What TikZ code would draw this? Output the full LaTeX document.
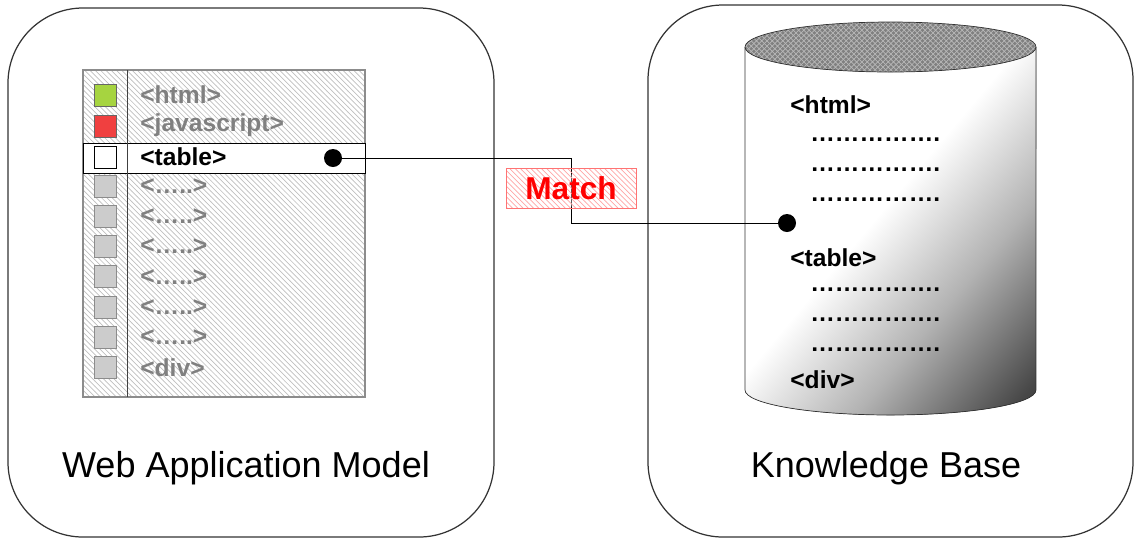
\documentclass[tikz,border=0pt]{standalone}
\usepackage{fontspec}
\setmainfont{Liberation Sans}
\usetikzlibrary{patterns}

\pgfdeclarehorizontalshading{kbshade}{100bp}{color(0bp)=(white); color(47bp)=(white); color(64bp)=(black!30); color(82bp)=(black!72); color(100bp)=(black!95)}

\begin{document}
\begin{tikzpicture}[x=0.02cm, y=-0.02cm,
    frame/.style={draw=black!80, line width=0.7pt, rounded corners=1.5cm},
    row/.style={anchor=west, inner sep=0pt, font=\bfseries\fontsize{14}{16}\selectfont, text=black!50},
    kbrow/.style={anchor=west, inner sep=0pt, font=\bfseries\fontsize{14}{16}\selectfont},
    sq/.style={draw=black!45, fill=black!20, minimum size=0.44cm, inner sep=0pt},
    dot/.style={circle, fill=black, inner sep=0pt, minimum size=0.36cm},
    title/.style={font=\fontsize{20.5}{24}\selectfont}]
        \useasboundingbox (0,0) rectangle (1135,539);

        % Рамки
        \draw[frame] (8,8) rectangle (494,537);
        \draw[frame] (648,5) rectangle (1133,537);

        % Список тегов
        \draw[black!45, line width=0.8pt, pattern=north west lines, pattern color=black!25] (83,70) rectangle (365,397);
        \draw[fill=white] (83,143) rectangle (365,173);
        \draw[black!75] (127,70) -- (127,397);
        \foreach \i/\t in {0/{<html>}, 1/{<javascript>}, 3/{<…..>}, 4/{<…..>}, 5/{<…..>}, 6/{<…..>}, 7/{<…..>}, 8/{<…..>}, 9/{<div>}}
            \node[row] (row\i) at (140, {95+30.3*\i}) {\t};
        \node[row, text=black] (row2) at (140, 157) {<table>};

        % Квадраты
        \node[sq, draw=black!60, fill={rgb,255:red,166;green,212;blue,64}] (sq0) at (105, 95) {};
        \node[sq, draw=black!60, fill={rgb,255:red,240;green,64;blue,64}] (sq1) at (105, 126) {};
        \node[sq, draw=black, fill=white] (sq2) at (105, 157) {};
        \foreach \i in {3,...,9}
            \node[sq] (sq\i) at (105, {95+30.3*\i}) {};

        % База знаний
        \fill[shading=kbshade, shading angle=-40] (745,47) -- (745,390)
            arc[start angle=180, end angle=360, x radius=2.91cm, y radius=0.5cm] -- (1036,47)
            arc[start angle=0, end angle=-180, x radius=2.91cm, y radius=0.5cm] -- cycle;
        \draw[black!80] (745,47) -- (745,390)
            arc[start angle=180, end angle=360, x radius=2.91cm, y radius=0.5cm] -- (1036,47);
        \fill[black!50] (890.5,47) ellipse[x radius=2.91cm, y radius=0.5cm];
        \draw[black!80, pattern=crosshatch, pattern color=black!28] (890.5,47) ellipse[x radius=2.91cm, y radius=0.5cm];

        \node[kbrow] (kbhtml) at (790,105) {<html>};
        \foreach \y in {140,170,200,290,320,350}
            \node[kbrow] (kbdots\y) at (810,\y) {…………….};
        \node[kbrow] (kbtable) at (790,258) {<table>};
        \node[kbrow] (kbdiv) at (790,380) {<div>};

        % Связь
        \node[dot] (tabdot) at (333,158) {};
        \node[dot] (kbdot) at (787,223) {};
        \coordinate (bend) at (571,190);
        \draw (tabdot) -| (bend) |- (kbdot);

        \node[draw=red!55, pattern=north west lines, pattern color=red!35, text=red,
            font=\bfseries\fontsize{18}{20}\selectfont, minimum width=2.6cm, minimum height=0.8cm] (match) at (571,188) {Match};

        % Подписи
        \node[title] (webmodel) at (246,468) {Web Application Model};
        \node[title] (kb) at (886,468) {Knowledge Base};
\end{tikzpicture}
\end{document}
